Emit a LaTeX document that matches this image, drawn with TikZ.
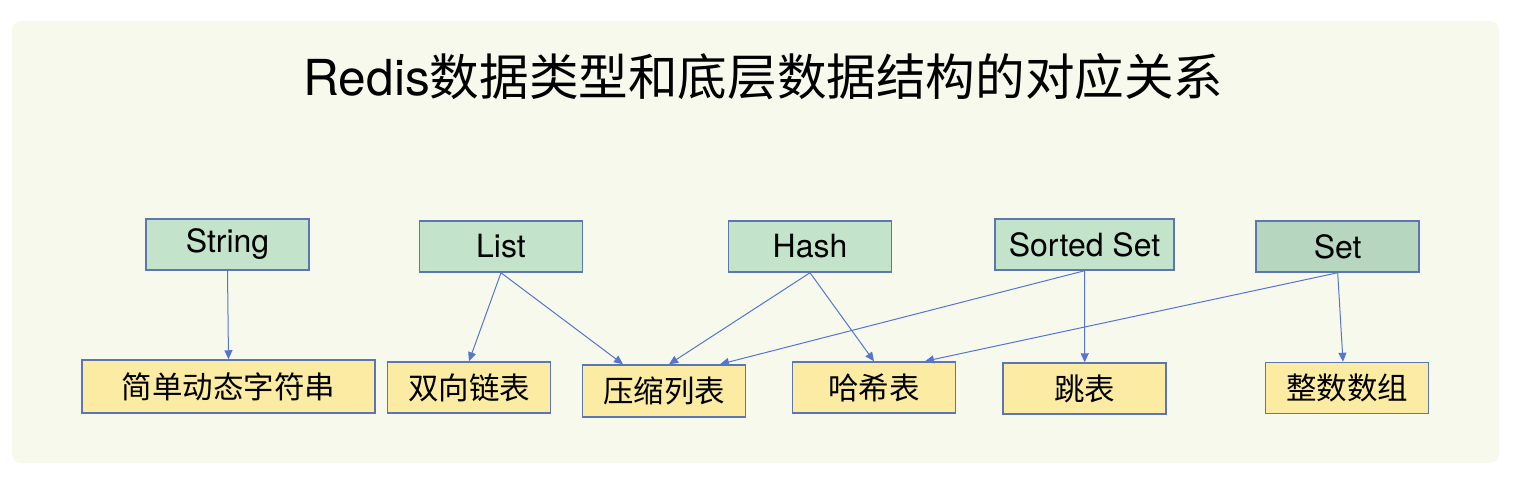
\documentclass[tikz,border=0pt]{standalone}
\usepackage{fontspec}
\setmainfont{TeX Gyre Heros}
\newfontfamily\cjk{Noto Sans CJK SC}
\usetikzlibrary{arrows.meta}

\definecolor{bgcolor}{RGB}{247,249,237}
\definecolor{typefill}{RGB}{195,228,203}
\definecolor{setfill}{RGB}{182,214,191}
\definecolor{structfill}{RGB}{252,235,162}
\definecolor{boxborder}{RGB}{92,118,180}
\definecolor{linkcolor}{RGB}{86,118,204}

\tikzset{
  typebox/.style={draw=boxborder, line width=1.5pt, fill=typefill, inner sep=0pt,
    minimum width=163pt, minimum height=51pt, font=\fontsize{32}{36}\selectfont},
  structbox/.style={draw=boxborder, line width=1.5pt, fill=structfill, inner sep=0pt,
    minimum width=163pt, minimum height=51pt, font=\cjk\fontsize{30.5}{36}\selectfont},
  link/.style={draw=linkcolor, line width=1pt, -{Triangle[length=9pt,width=8pt]}}
}

\begin{document}
\begin{tikzpicture}[x=1pt,y=-1pt]
\useasboundingbox (0,0) rectangle (1518,488);
\fill[bgcolor, rounded corners=9pt] (12,21) rectangle (1499,463);% fond

%le titre
\node (title) at (763.5,77) {\fontsize{49.6}{56}\selectfont Redis\cjk 数据类型和底层数据结构的对应关系};

%les types
\node[typebox] (string) at (227.5,244.5) {String};
\node[typebox] (list) at (501,246.5) {List};
\node[typebox] (hash) at (810,246.5) {Hash};
\node[typebox, minimum width=179pt] (zset) at (1084.5,244.5) {Sorted Set};
\node[typebox, fill=setfill] (set) at (1337.7,246.5) {Set};

%les structures
\node[structbox, minimum width=293pt, minimum height=53pt] (sds) at (228.5,386.5) {简单动态字符串};
\node[structbox] (linkedlist) at (469,387.5) {双向链表};
\node[structbox, minimum height=52pt] (ziplist) at (664,391) {压缩列表};
\node[structbox] (hashtable) at (874,387.5) {哈希表};
\node[structbox] (skiplist) at (1084.7,388.5) {跳表};
\node[structbox] (intset) at (1347,388) {整数数组};

%les liens
\draw[link] (string.south) -- (sds.north);
\draw[link] (list.south) -- (linkedlist.north);
\draw[link] (list.south) -- ([xshift=-41pt]ziplist.north);
\draw[link] (hash.south) -- ([xshift=5pt]ziplist.north);
\draw[link] (hash.south) -- (hashtable.north);
\draw[link] (zset.south) -- ([xshift=56pt]ziplist.north);
\draw[link] (zset.south) -- (skiplist.north);
\draw[link] (set.south) -- ([xshift=51pt]hashtable.north);
\draw[link] (set.south) -- ([xshift=-4pt]intset.north);
\end{tikzpicture}
\end{document}
